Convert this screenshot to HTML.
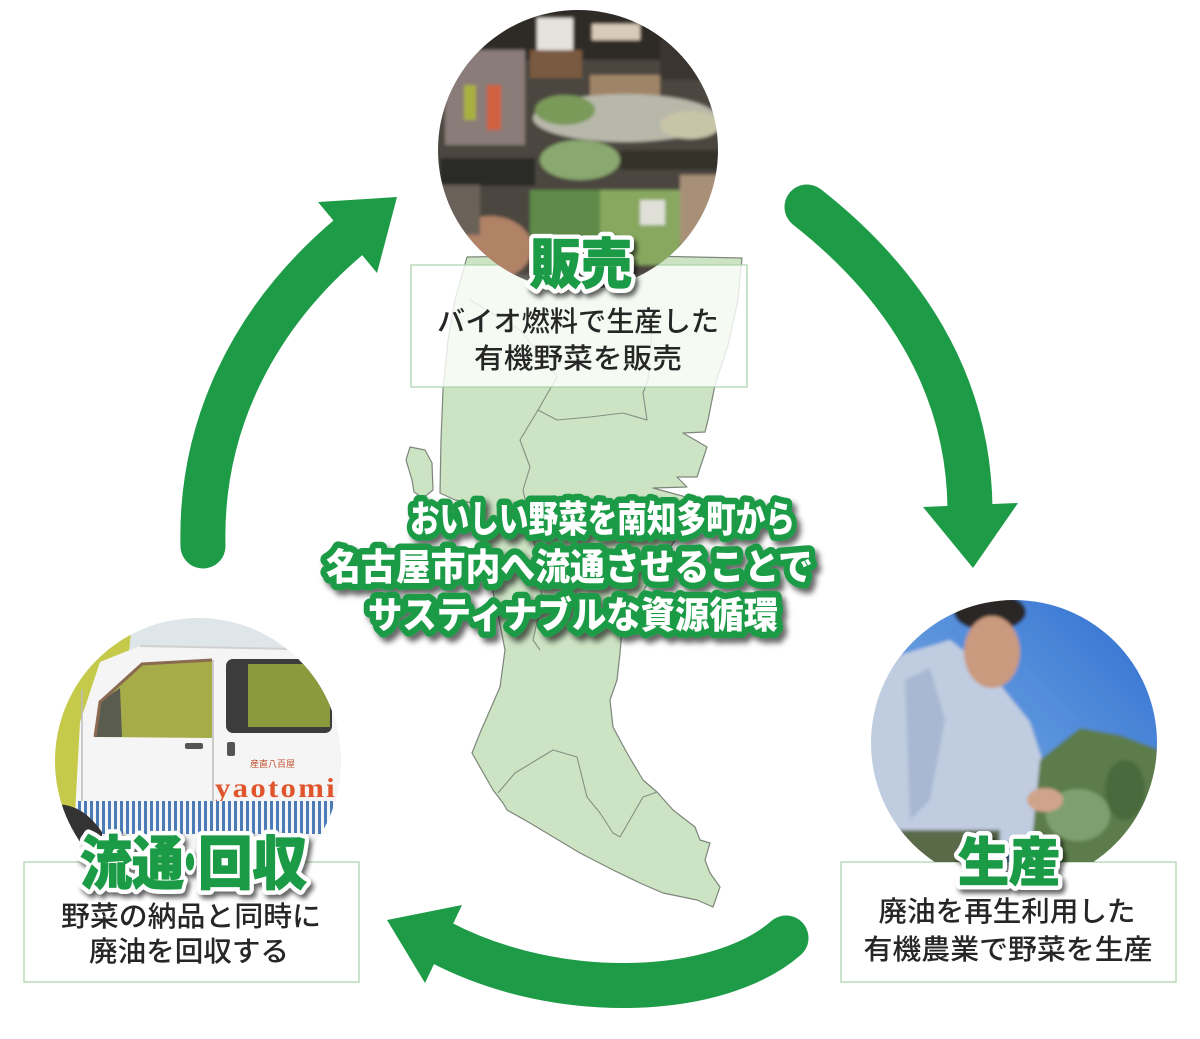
<!DOCTYPE html>
<html><head><meta charset="utf-8"><style>
html,body{margin:0;padding:0;background:#fff;}
svg{display:block;}
text{font-family:"Liberation Sans","Noto Sans CJK JP",sans-serif;}
</style></head><body>
<svg width="1200" height="1039" viewBox="0 0 1200 1039" xmlns="http://www.w3.org/2000/svg">
<defs>
<clipPath id="cTop"><circle cx="578" cy="150" r="140"/></clipPath>
<clipPath id="cRight"><path d="M871,600 H1160 V862 H871 Z"/></clipPath>
<clipPath id="cRightC"><circle cx="1014" cy="743" r="143"/></clipPath>
<clipPath id="cLeft"><path d="M50,610 H345 V862 H50 Z"/></clipPath>
<clipPath id="cLeftC"><circle cx="198" cy="761" r="143"/></clipPath>
<filter id="bl" x="-5%" y="-5%" width="110%" height="110%"><feGaussianBlur stdDeviation="1.6"/></filter>
<filter id="ts" x="-10%" y="-30%" width="130%" height="170%"><feDropShadow dx="3" dy="4" stdDeviation="2.5" flood-color="#000" flood-opacity="0.6"/></filter>
<filter id="ts2" x="-10%" y="-30%" width="130%" height="170%"><feDropShadow dx="4" dy="5" stdDeviation="3" flood-color="#000" flood-opacity="0.6"/></filter>
<linearGradient id="sky" x1="1" y1="0" x2="0" y2="1"><stop offset="0" stop-color="#2c6cd0"/><stop offset="0.6" stop-color="#6aa0e0"/><stop offset="1" stop-color="#b4d2ee"/></linearGradient>
<pattern id="stripes" width="6" height="40" patternUnits="userSpaceOnUse"><rect width="6" height="40" fill="#f4f6f8"/><rect width="3" height="40" fill="#4c7cb8"/></pattern>
</defs>

<!-- MAP -->
<g fill="#cde4c4" stroke="#7d867b" stroke-width="1.2" stroke-linejoin="round">
<polygon points="467,257 600,255 742,258 738,300 728,345 715,385 708,420 705,432 683,433 707,447 697,477 677,477 687,487 653,488 697,500 685,525 662,560 638,600 622,630 620,653 617,680 610,700 613,727 627,753 643,780 657,792 673,810 695,827 700,840 710,843 705,860 710,873 720,887 713,907 697,900 663,893 640,883 613,870 580,853 530,823 507,810 503,803 493,790 472,753 480,733 490,710 500,687 505,650 497,610 488,570 478,530 472,503 455,500 440,493 441,440 443,390 448,340 455,300"/>
<polygon points="410,447 425,450 432,463 433,490 423,498 414,492 412,480 406,460"/>
</g>
<g fill="none" stroke="#858f83" stroke-width="1.1" stroke-linejoin="round">
<polyline points="557,377 538,410 520,440 530,467 523,490 538,560 542,600 533,640 540,650"/>
<polyline points="538,410 557,420 590,417 623,413 647,420 643,393 648,380 652,330"/>
<polyline points="498,793 515,773 553,750 577,757 587,797 600,813 613,833 620,837 643,797 657,792"/>
<polyline points="470,300 520,330 557,377"/>
</g>

<!-- BOXES -->
<rect x="411" y="265" width="336" height="122" fill="#fff" fill-opacity="0.8" stroke="#a9d2a9" stroke-width="1.2"/>
<rect x="24" y="862" width="335" height="120" fill="#fff" stroke="#a9d2a9" stroke-width="1.2"/>
<rect x="841" y="862" width="335" height="120" fill="#fff" stroke="#a9d2a9" stroke-width="1.2"/>

<!-- TOP PHOTO -->
<g clip-path="url(#cTop)">
<g filter="url(#bl)">
<rect x="430" y="0" width="300" height="300" fill="#4b4740"/>
<rect x="430" y="0" width="300" height="60" fill="#2e2b28"/>
<rect x="537" y="18" width="36" height="32" fill="#e6e2de"/>
<rect x="592" y="24" width="48" height="16" fill="#d8cbb8"/>
<rect x="530" y="50" width="52" height="28" fill="#7a5a40"/>
<rect x="590" y="75" width="70" height="35" fill="#a08468"/>
<rect x="660" y="40" width="60" height="40" fill="#3a3632"/>
<rect x="445" y="50" width="80" height="95" fill="#8a7c78"/>
<rect x="487" y="85" width="14" height="45" fill="#d06040"/>
<rect x="464" y="85" width="12" height="35" fill="#a8b040"/>
<ellipse cx="625" cy="118" rx="92" ry="24" fill="#b8b8aa"/>
<ellipse cx="565" cy="110" rx="30" ry="15" fill="#7a9a5a"/>
<ellipse cx="690" cy="125" rx="30" ry="14" fill="#c8c4a8"/>
<rect x="440" y="158" width="95" height="28" fill="#2c2a28"/>
<rect x="620" y="150" width="100" height="20" fill="#34302c"/>
<ellipse cx="580" cy="160" rx="40" ry="20" fill="#8aa870"/>
<rect x="530" y="190" width="70" height="60" fill="#5e8a48"/>
<rect x="600" y="190" width="80" height="75" fill="#88a860"/>
<rect x="640" y="200" width="25" height="25" fill="#e0e0d8"/>
<ellipse cx="490" cy="248" rx="42" ry="32" fill="#b08266"/>
<rect x="680" y="175" width="45" height="70" fill="#a89078"/>
<rect x="440" y="185" width="40" height="50" fill="#6a6258"/>
<rect x="430" y="275" width="300" height="30" fill="#6a6560"/>
</g>
</g>

<!-- RIGHT PHOTO -->
<g clip-path="url(#cRight)"><g clip-path="url(#cRightC)">
<g filter="url(#bl)">
<rect x="860" y="590" width="310" height="310" fill="url(#sky)"/>
<polygon points="860,700 900,655 950,640 990,672 1030,722 1052,790 1040,832 990,852 860,870" fill="#c0cce0"/>
<polygon points="905,680 930,668 945,720 930,800 910,820" fill="#a8b8d2"/>
<polygon points="1040,760 1080,728 1120,735 1165,752 1165,880 1028,880" fill="#5c7c4c"/>
<ellipse cx="1078" cy="815" rx="32" ry="26" fill="#7ea070"/>
<ellipse cx="1125" cy="790" rx="20" ry="30" fill="#4a6a3c"/>
<ellipse cx="990" cy="612" rx="36" ry="19" fill="#2a2826"/>
<ellipse cx="992" cy="652" rx="28" ry="36" fill="#c99a7e"/>
<ellipse cx="1045" cy="800" rx="18" ry="12" fill="#d0a48a"/>
<rect x="860" y="830" width="140" height="50" fill="#5a6a48"/>
</g>
</g></g>

<!-- LEFT PHOTO -->
<g clip-path="url(#cLeft)"><g clip-path="url(#cLeftC)">
<rect x="50" y="610" width="300" height="300" fill="#efefef"/>
<rect x="50" y="610" width="300" height="45" fill="#dfe6ea"/>
<polygon points="50,628 132,624 128,660 98,680 86,740 78,812 50,812" fill="#c6ca4a"/>
<polygon points="100,662 140,646 345,650 345,905 70,905 80,722" fill="#f5f5f5"/>
<line x1="140" y1="646" x2="345" y2="650" stroke="#d0d0d0" stroke-width="2"/>
<polygon points="95,737 100,702 142,664 212,660 212,738" fill="#a6ac48"/>
<polygon points="95,737 100,702 120,688 122,737" fill="#5a5c50"/>
<polyline points="95,737 100,702 142,664 212,660" fill="none" stroke="#8a6a50" stroke-width="3"/>
<rect x="226" y="659" width="106" height="74" rx="7" fill="#3c3c3c"/>
<rect x="248" y="664" width="82" height="63" fill="#8c9a3e"/>
<line x1="82" y1="690" x2="82" y2="812" stroke="#bbbbbb" stroke-width="1.5"/>
<line x1="213" y1="660" x2="213" y2="812" stroke="#bbbbbb" stroke-width="1.5"/>
<rect x="185" y="743" width="18" height="6" rx="2" fill="#555"/>
<rect x="227" y="742" width="8" height="14" rx="2" fill="#555"/>
<text x="250" y="767" font-size="9" fill="#c05030">産直八百屋</text>
<text x="215" y="797" font-size="27" font-weight="bold" fill="#e0552c" textLength="122" lengthAdjust="spacingAndGlyphs" style="font-family:'Liberation Serif',serif;letter-spacing:2px">yaotomi</text>
<rect x="77" y="801" width="270" height="33" fill="url(#stripes)"/>
<path d="M50,805 Q80,800 102,832 L102,845 L50,845 Z" fill="#333"/>
</g></g>

<!-- ARROWS -->
<g fill="none" stroke="#1e9b47" stroke-width="45">
<path d="M203,546 C200,430 250,320 350,236" stroke-linecap="round"/>
<path d="M807,207 C900,280 970,380 970,512" stroke-linecap="round"/>
<path d="M786,938 C720,996 560,1005 440,942" stroke-linecap="round"/>
</g>
<g fill="#1e9b47">
<polygon points="318,202 397,197 377,273"/>
<polygon points="923,507 1018,503 973,568"/>
<polygon points="462,905 387,920 425,983"/>
</g>

<!-- LABELS -->
<g filter="url(#ts)" font-weight="900" stroke-linejoin="round">
<g fill="#ffffff" stroke="#ffffff" stroke-width="10">
<text x="530" y="283" font-size="54" textLength="102" lengthAdjust="spacingAndGlyphs">販売</text>
<text x="80" y="884" font-size="58" textLength="104" lengthAdjust="spacingAndGlyphs">流通</text>
<text x="176" y="884" font-size="58" textLength="28" lengthAdjust="spacingAndGlyphs">・</text>
<text x="198" y="884" font-size="58" textLength="109" lengthAdjust="spacingAndGlyphs">回収</text>
<text x="958" y="881" font-size="52" textLength="102" lengthAdjust="spacingAndGlyphs">生産</text>
</g>
<g fill="#1e9b47" stroke="#1e9b47" stroke-width="1.2">
<text x="530" y="283" font-size="54" textLength="102" lengthAdjust="spacingAndGlyphs">販売</text>
<text x="80" y="884" font-size="58" textLength="104" lengthAdjust="spacingAndGlyphs">流通</text>
<text x="176" y="884" font-size="58" textLength="28" lengthAdjust="spacingAndGlyphs">・</text>
<text x="198" y="884" font-size="58" textLength="109" lengthAdjust="spacingAndGlyphs">回収</text>
<text x="958" y="881" font-size="52" textLength="102" lengthAdjust="spacingAndGlyphs">生産</text>
</g>
</g>

<!-- DESCRIPTIONS -->
<g font-size="28" font-weight="500" fill="#262626" text-anchor="middle">
<text x="578" y="331" textLength="282" lengthAdjust="spacingAndGlyphs">バイオ燃料で生産した</text>
<text x="578" y="368" textLength="208" lengthAdjust="spacingAndGlyphs">有機野菜を販売</text>
<text x="191" y="926" textLength="260" lengthAdjust="spacingAndGlyphs">野菜の納品と同時に</text>
<text x="189" y="961" textLength="200" lengthAdjust="spacingAndGlyphs">廃油を回収する</text>
<text x="1007" y="921" textLength="257" lengthAdjust="spacingAndGlyphs">廃油を再生利用した</text>
<text x="1008" y="959" textLength="289" lengthAdjust="spacingAndGlyphs">有機農業で野菜を生産</text>
</g>

<!-- CENTER TEXT -->
<g filter="url(#ts2)" font-size="37" font-weight="900" stroke-linejoin="round">
<g fill="#1e9b47" stroke="#1e9b47" stroke-width="13">
<text x="410" y="532" textLength="385" lengthAdjust="spacingAndGlyphs">おいしい野菜を南知多町から</text>
<text x="326" y="580" textLength="487" lengthAdjust="spacingAndGlyphs">名古屋市内へ流通させることで</text>
<text x="368" y="628" textLength="410" lengthAdjust="spacingAndGlyphs">サスティナブルな資源循環</text>
</g>
<g fill="#ffffff">
<text x="410" y="532" textLength="385" lengthAdjust="spacingAndGlyphs">おいしい野菜を南知多町から</text>
<text x="326" y="580" textLength="487" lengthAdjust="spacingAndGlyphs">名古屋市内へ流通させることで</text>
<text x="368" y="628" textLength="410" lengthAdjust="spacingAndGlyphs">サスティナブルな資源循環</text>
</g>
</g>
</svg>
</body></html>
